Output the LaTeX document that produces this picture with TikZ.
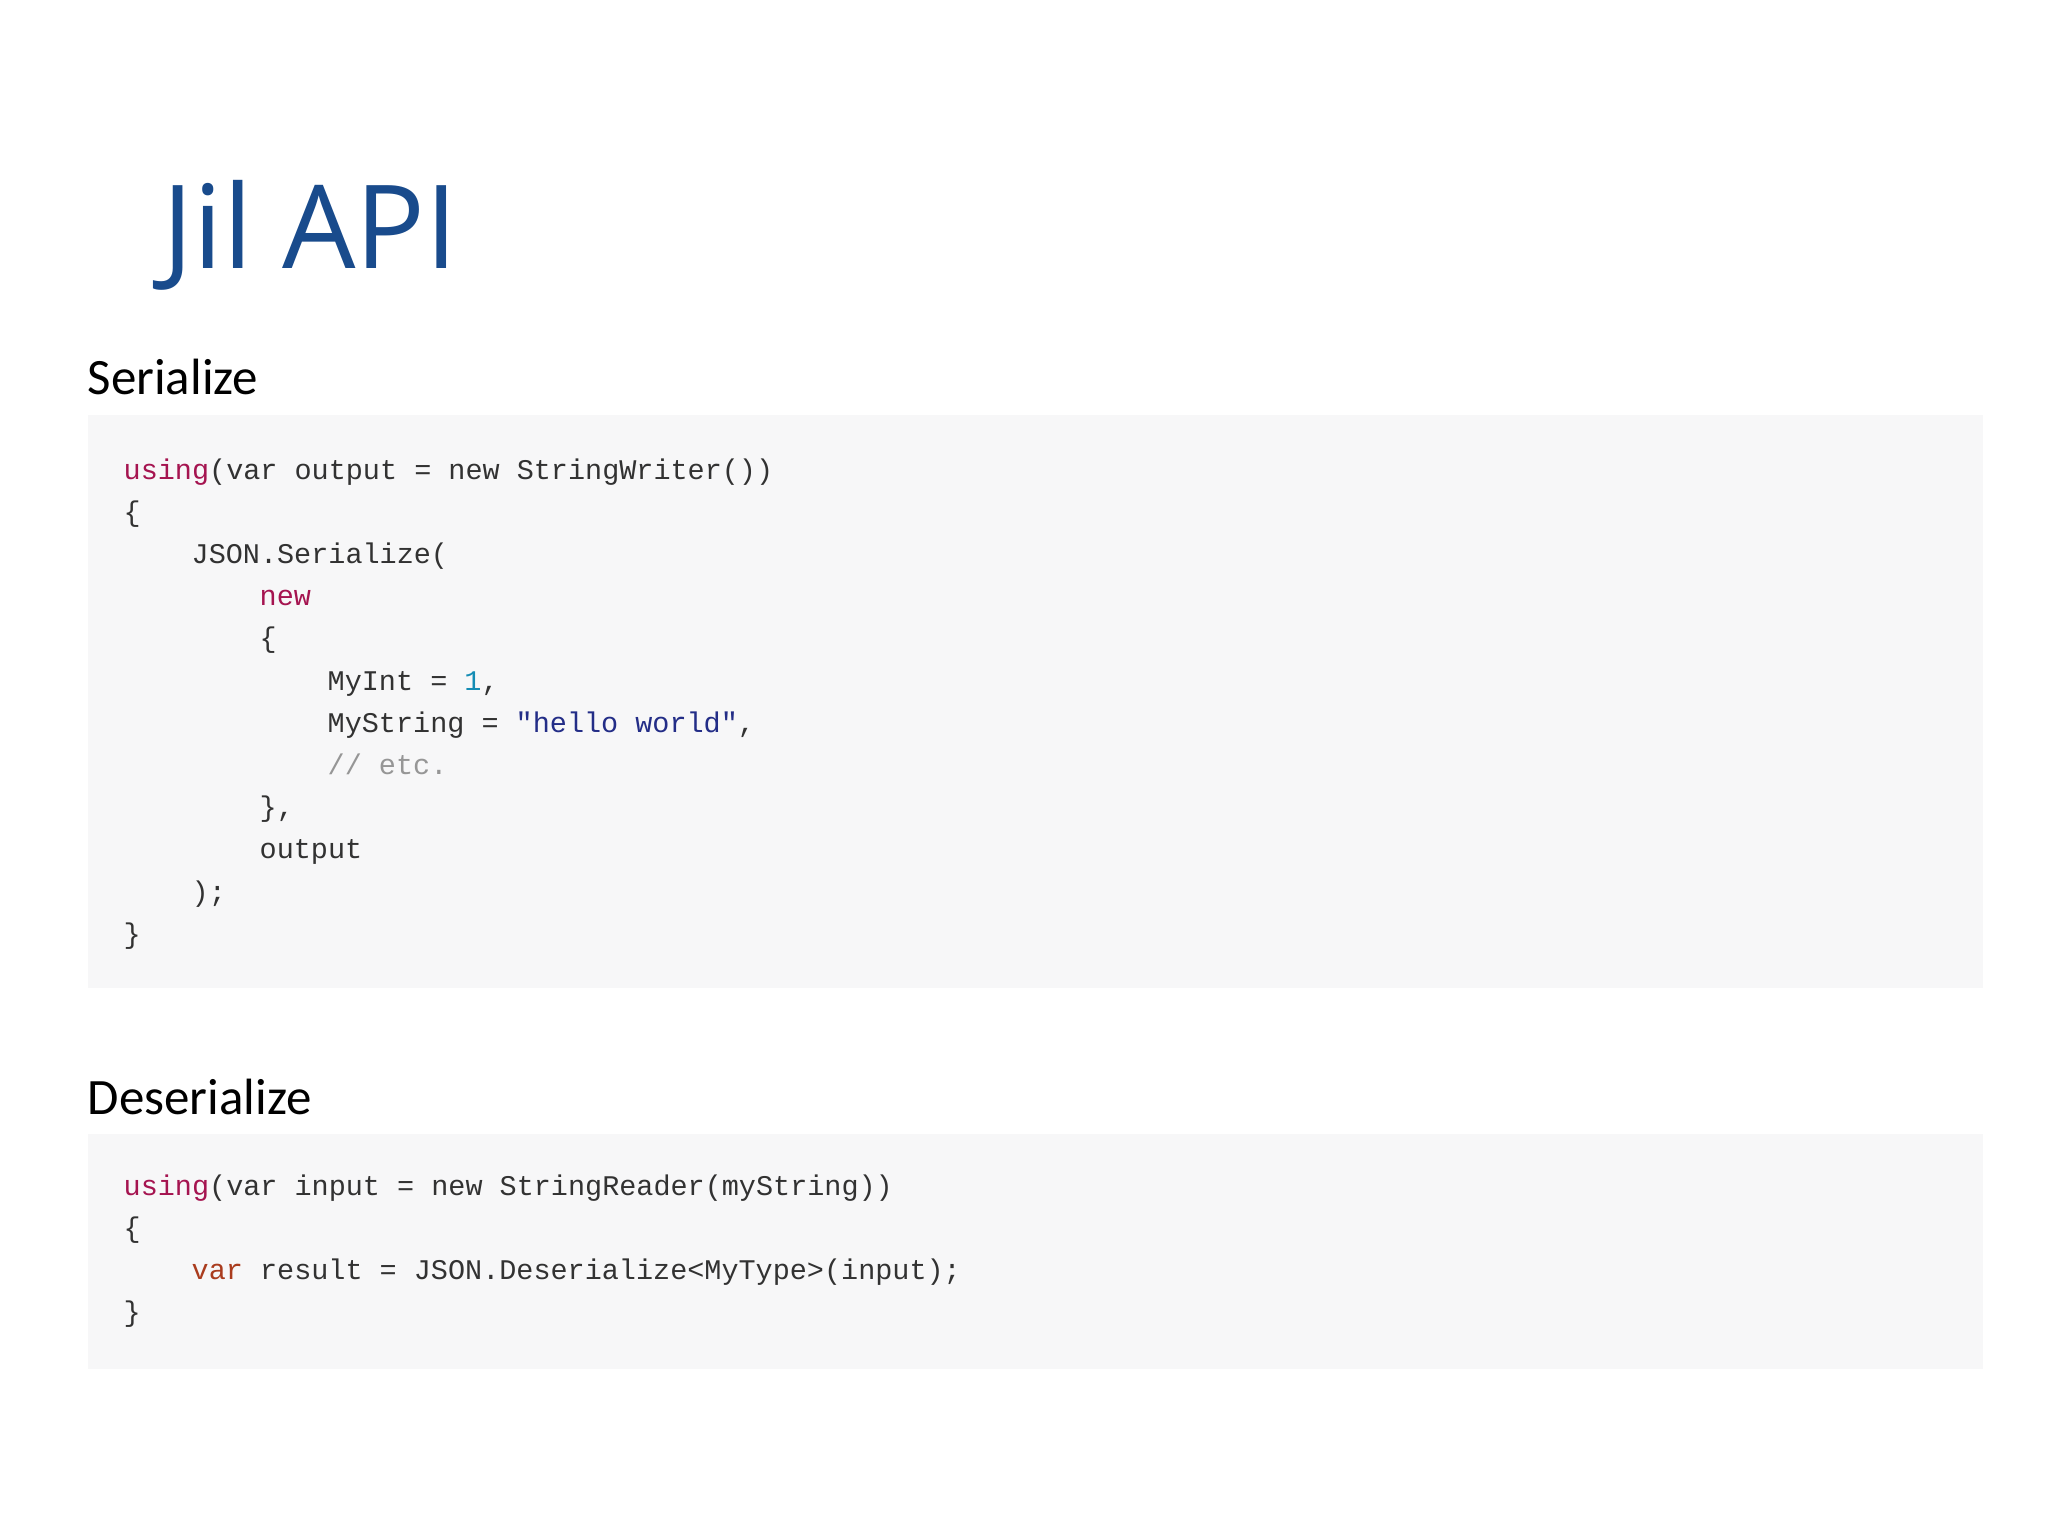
\documentclass[tikz,border=0pt]{standalone}
\usepackage{fontspec}
\setmonofont{Liberation Mono}
\newfontfamily\titlefont{Open Sans}
\newfontfamily\headfont{Carlito}
\definecolor{titleblue}{RGB}{25,75,140}
\definecolor{boxgray}{RGB}{247,247,248}
\definecolor{kw}{RGB}{165,20,80}
\definecolor{kwv}{RGB}{170,60,30}
\definecolor{num}{RGB}{20,140,180}
\definecolor{str}{RGB}{35,45,135}
\definecolor{cmt}{RGB}{150,150,150}
\definecolor{txt}{RGB}{50,50,50}
\begin{document}
\begin{tikzpicture}[x=0.01cm,y=-0.01cm,
  code/.style={anchor=base west,inner sep=0,text=txt,font=\ttfamily\fontsize{8.1pt}{9pt}\selectfont},
  head/.style={anchor=base west,inner sep=0,font=\headfont\fontsize{14.5pt}{17pt}\selectfont}]
\useasboundingbox (0,0) rectangle (2048,1536);
\fill[white] (0,0) rectangle (2048,1536);
\node[anchor=base west,inner sep=0,text=titleblue,font=\titlefont\fontsize{33pt}{38pt}\selectfont] (title) at (162,268) {Jil API};
\node[head] (h1) at (87,394) {Serialize};
\fill[boxgray] (88,415) rectangle (1983,988);
\def\L{42.2}
\node[code] (a1) at (123,479) {\textcolor{kw}{using}(var output = new StringWriter())};
\node[code] (a2) at (123,479+\L) {\{};
\node[code] (a3) at (191,479+2*\L) {JSON.Serialize(};
\node[code] (a4) at (259,479+3*\L) {\textcolor{kw}{new}};
\node[code] (a5) at (259,479+4*\L) {\{};
\node[code] (a6) at (327,479+5*\L) {MyInt = \textcolor{num}{1},};
\node[code] (a7) at (327,479+6*\L) {MyString = \textcolor{str}{"hello world"},};
\node[code] (a8) at (327,479+7*\L) {\textcolor{cmt}{// etc.}};
\node[code] (a9) at (259,479+8*\L) {\},};
\node[code] (a10) at (259,479+9*\L) {output};
\node[code] (a11) at (191,479+10*\L) {);};
\node[code] (a12) at (123,479+11*\L) {\}};
\node[head] (h2) at (87,1114) {Deserialize};
\fill[boxgray] (88,1134) rectangle (1983,1369);
\def\M{42.2}
\node[code] (b1) at (123,1195) {\textcolor{kw}{using}(var input = new StringReader(myString))};
\node[code] (b2) at (123,1195+\M) {\{};
\node[code] (b3) at (191,1195+2*\M) {\textcolor{kwv}{var} result = JSON.Deserialize<MyType>(input);};
\node[code] (b4) at (123,1195+3*\M) {\}};
\end{tikzpicture}
\end{document}
